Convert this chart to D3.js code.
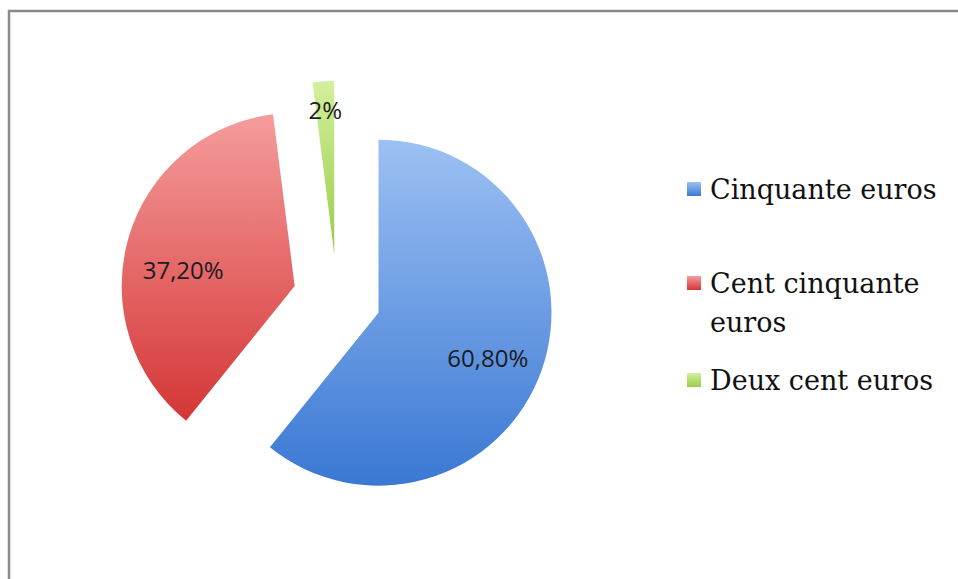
<!DOCTYPE html>
<html>
<head>
<meta charset="utf-8">
<script src="https://cdn.jsdelivr.net/npm/d3@7"></script>
<style>
  html, body { margin: 0; padding: 0; background: #fff; }
  svg { display: block; }
</style>
</head>
<body>
<div id="chart"></div>
<script>
// data
const categories = ["Cinquante euros", "Cent cinquante euros", "Deux cent euros"]
const values = [60.8, 37.2, 2]
const valueLabels = ["60,80%", "37,20%", "2%"]
const legendLines = [["Cinquante euros"], ["Cent cinquante", "euros"], ["Deux cent euros"]]

const w = 958, h = 579
const cx = 337, cy = 298, r = 173, explode = 44
// light (top) and dark (bottom) shade of each slice
const colors = [["#9cc0f3", "#3a78d3"], ["#f59c9c", "#d53636"], ["#d3f09c", "#98cc48"]]
const labelFactor = [0.67, 0.67, 0.83]
const labelShift = [7, 16, 0]

var svg = d3.select("#chart").append("svg")
  .attr("width", w)
  .attr("height", h)

// frame
svg.append("rect")
  .attr("x", 9).attr("y", 11)
  .attr("width", w + 20).attr("height", h + 20)
  .attr("fill", "#fff")
  .attr("stroke", "#8a8a8a")
  .attr("stroke-width", 2.5)

var defs = svg.append("defs")
colors.forEach(function (c, i) {
  var gr = defs.append("linearGradient")
    .attr("id", "grad" + i)
    .attr("x1", 0).attr("y1", 0).attr("x2", 0).attr("y2", 1)
  gr.append("stop").attr("offset", "0%").attr("stop-color", c[0])
  gr.append("stop").attr("offset", "100%").attr("stop-color", c[1])
})

var pie = d3.pie().sort(null).value(d => d)
var arcs = pie(values)
var arc = d3.arc().innerRadius(0).outerRadius(r)

var g = svg.append("g").attr("transform", "translate(" + cx + "," + cy + ")")

var slice = g.selectAll("g.slice")
  .data(arcs)
  .enter().append("g")
  .attr("class", "slice")
  .attr("transform", function (d) {
    var a = (d.startAngle + d.endAngle) / 2
    return "translate(" + (explode * Math.sin(a)) + "," + (-explode * Math.cos(a)) + ")"
  })

slice.append("path")
  .attr("d", arc)
  .attr("fill", (d, i) => "url(#grad" + i + ")")

slice.append("text")
  .attr("transform", function (d, i) {
    var a = (d.startAngle + d.endAngle) / 2
    var lr = r * labelFactor[i]
    return "translate(" + (lr * Math.sin(a)) + "," + (-lr * Math.cos(a) + labelShift[i]) + ")"
  })
  .attr("text-anchor", "middle")
  .attr("dy", "0.35em")
  .style("font-family", "'Open Sans', sans-serif")
  .style("font-size", "24px")
  .style("fill", "#1b1b22")
  .text((d, i) => valueLabels[i])

// legend
var rowY = [199, 293, 390]
var legend = svg.append("g")
  .selectAll("g")
  .data(categories)
  .enter().append("g")

legend.append("rect")
  .attr("x", 687)
  .attr("y", (d, i) => rowY[i] - 17)
  .attr("width", 14).attr("height", 14)
  .attr("fill", (d, i) => "url(#grad" + i + ")")

legend.append("text")
  .attr("x", 710)
  .attr("y", (d, i) => rowY[i])
  .style("font-family", "'DejaVu Serif', serif")
  .style("font-size", "27px")
  .style("fill", "#111")
  .selectAll("tspan")
  .data((d, i) => legendLines[i])
  .enter().append("tspan")
  .attr("x", 710)
  .attr("dy", (d, j) => j === 0 ? 0 : 39)
  .text(d => d)
</script>
</body>
</html>
